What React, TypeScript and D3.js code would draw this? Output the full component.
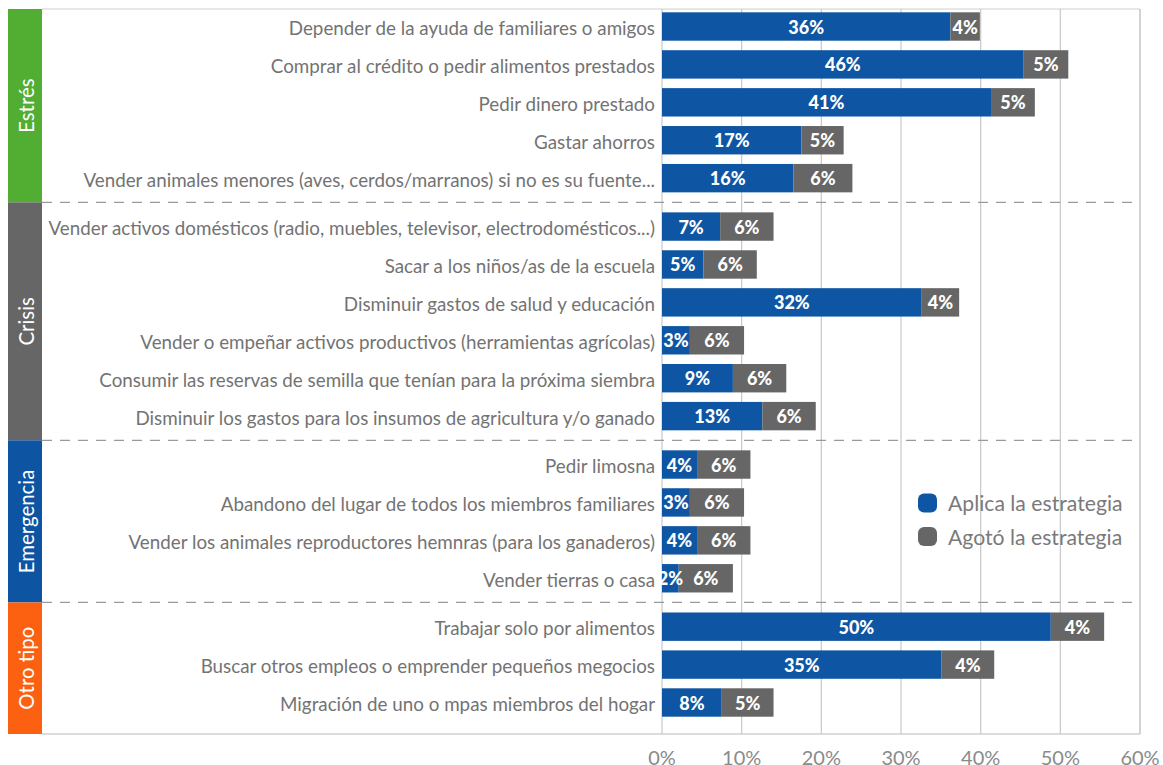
import React from "react";
import * as d3 from "d3";

const categories = [
  "Depender de la ayuda de familiares o amigos",
  "Comprar al crédito o pedir alimentos prestados",
  "Pedir dinero prestado",
  "Gastar ahorros",
  "Vender animales menores (aves, cerdos/marranos) si no es su fuente...",
  "Vender activos domésticos (radio, muebles, televisor, electrodomésticos...)",
  "Sacar a los niños/as de la escuela",
  "Disminuir gastos de salud y educación",
  "Vender o empeñar activos productivos (herramientas agrícolas)",
  "Consumir las reservas de semilla que tenían para la próxima siembra",
  "Disminuir los gastos para los insumos de agricultura y/o ganado",
  "Pedir limosna",
  "Abandono del lugar de todos los miembros familiares",
  "Vender los animales reproductores hemnras (para los ganaderos)",
  "Vender tierras o casa",
  "Trabajar solo por alimentos",
  "Buscar otros empleos o emprender pequeños megocios",
  "Migración de uno o mpas miembros del hogar",
];

const rowGroup = [0, 0, 0, 0, 0, 1, 1, 1, 1, 1, 1, 2, 2, 2, 2, 3, 3, 3];

const groups = ["Estrés", "Crisis", "Emergencia", "Otro tipo"];
const groupColors = ["#52AE32", "#666666", "#0D55A3", "#FC6111"];

// Values (percent)
const aplica = [36.2, 45.4, 41.3, 17.5, 16.5, 7.3, 5.2, 32.6, 3.5, 8.9, 12.6, 4.4, 3.5, 4.4, 2.1, 48.8, 35.1, 7.5];
const agoto = [3.7, 5.6, 5.5, 5.3, 7.4, 6.7, 6.7, 4.7, 6.8, 6.7, 6.7, 6.7, 6.8, 6.7, 6.8, 6.7, 6.6, 6.5];

// Labels as printed on the bars
const aplicaLabels = ["36%", "46%", "41%", "17%", "16%", "7%", "5%", "32%", "3%", "9%", "13%", "4%", "3%", "4%", "2%", "50%", "35%", "8%"];
const agotoLabels = ["4%", "5%", "5%", "5%", "6%", "6%", "6%", "4%", "6%", "6%", "6%", "6%", "6%", "6%", "6%", "4%", "4%", "5%"];

const xTicks = [0, 10, 20, 30, 40, 50, 60];
const legendItems = ["Aplica la estrategia", "Agotó la estrategia"];

const BLUE = "#0E56A4";
const GREY = "#666666";
const FONT = "Lato, 'Open Sans', sans-serif";

export default function App() {
  const W = 1163;
  const H = 765;
  const x0 = 662;
  const x1 = 1140;
  const top = 9;
  const bottom = 734;
  const frameLeft = 42;
  const gapFrac = 0.277;
  const barH = 28.4;

  const x = d3.scaleLinear().domain([0, 60]).range([x0, x1]);

  const slots = rowGroup.map((g, i) => i + g * gapFrac);
  const y = d3
    .scaleLinear()
    .domain([0, slots[slots.length - 1]])
    .range([26.5, 702.5]);
  const yc = (i: number) => y(slots[i]);

  const seps: number[] = [];
  for (let i = 1; i < rowGroup.length; i++) {
    if (rowGroup[i] !== rowGroup[i - 1]) seps.push((yc(i) + yc(i - 1)) / 2);
  }
  const bounds = [top, ...seps, bottom];

  return (
    <svg
      width={W}
      height={H}
      style={{ position: "absolute", left: 0, top: 0, background: "#fff" }}
      fontFamily={FONT}
    >
      <line x1={frameLeft} x2={x1} y1={top} y2={top} stroke="#d0d0d0" strokeWidth={1.2} />
      <line x1={frameLeft} x2={x1} y1={bottom} y2={bottom} stroke="#d0d0d0" strokeWidth={1.5} />
      <line x1={x1} x2={x1} y1={top} y2={bottom} stroke="#d0d0d0" strokeWidth={1.2} />

      {xTicks.map((t) => (
        <line key={t} x1={x(t)} x2={x(t)} y1={top} y2={bottom} stroke="#c8c8c8" strokeWidth={1.2} />
      ))}

      {seps.map((s, i) => (
        <line
          key={i}
          x1={frameLeft}
          x2={x1}
          y1={s}
          y2={s}
          stroke="#9a9a9a"
          strokeWidth={1.2}
          strokeDasharray="10 8"
        />
      ))}

      {groups.map((g, i) => {
        const yTop = bounds[i];
        const yBot = bounds[i + 1];
        const cy = (yTop + yBot) / 2;
        const cx = 8 + (frameLeft - 8) / 2;
        return (
          <g key={g}>
            <rect x={8} y={yTop} width={frameLeft - 8} height={yBot - yTop} fill={groupColors[i]} />
            <text
              transform={`translate(${cx + 1},${cy}) rotate(-90)`}
              textAnchor="middle"
              dominantBaseline="central"
              fill="#fff"
              fontSize={20.4}
            >
              {g}
            </text>
          </g>
        );
      })}

      {categories.map((c, i) => {
        const cy = yc(i);
        const xa = x(aplica[i]);
        const xb = x(aplica[i] + agoto[i]);
        return (
          <g key={c}>
            <text
              x={655}
              y={cy + 1}
              textAnchor="end"
              dominantBaseline="central"
              fill="#737373"
              fontSize={18.8}
            >
              {c}
            </text>
            <rect x={x0} y={cy - barH / 2} width={xa - x0} height={barH} fill={BLUE} />
            <rect x={xa} y={cy - barH / 2} width={xb - xa} height={barH} fill={GREY} />
            <text
              x={(x0 + xa) / 2}
              y={cy}
              textAnchor="middle"
              dominantBaseline="central"
              fill="#fff"
              fontSize={18}
              fontWeight={900}
            >
              {aplicaLabels[i]}
            </text>
            <text
              x={(xa + xb) / 2}
              y={cy}
              textAnchor="middle"
              dominantBaseline="central"
              fill="#fff"
              fontSize={18}
              fontWeight={900}
            >
              {agotoLabels[i]}
            </text>
          </g>
        );
      })}

      {xTicks.map((t) => (
        <text key={t} x={x(t)} y={765} textAnchor="middle" fill="#8a8a8a" fontSize={20}>
          {`${t}%`}
        </text>
      ))}

      {legendItems.map((l, i) => (
        <g key={l} transform={`translate(918,${503 + i * 33.5})`}>
          <rect x={0} y={-9.5} width={19} height={19} rx={6} fill={i === 0 ? BLUE : GREY} />
          <text x={30} y={0} dominantBaseline="central" fill="#7a7a7a" fontSize={21.2}>
            {l}
          </text>
        </g>
      ))}
    </svg>
  );
}
